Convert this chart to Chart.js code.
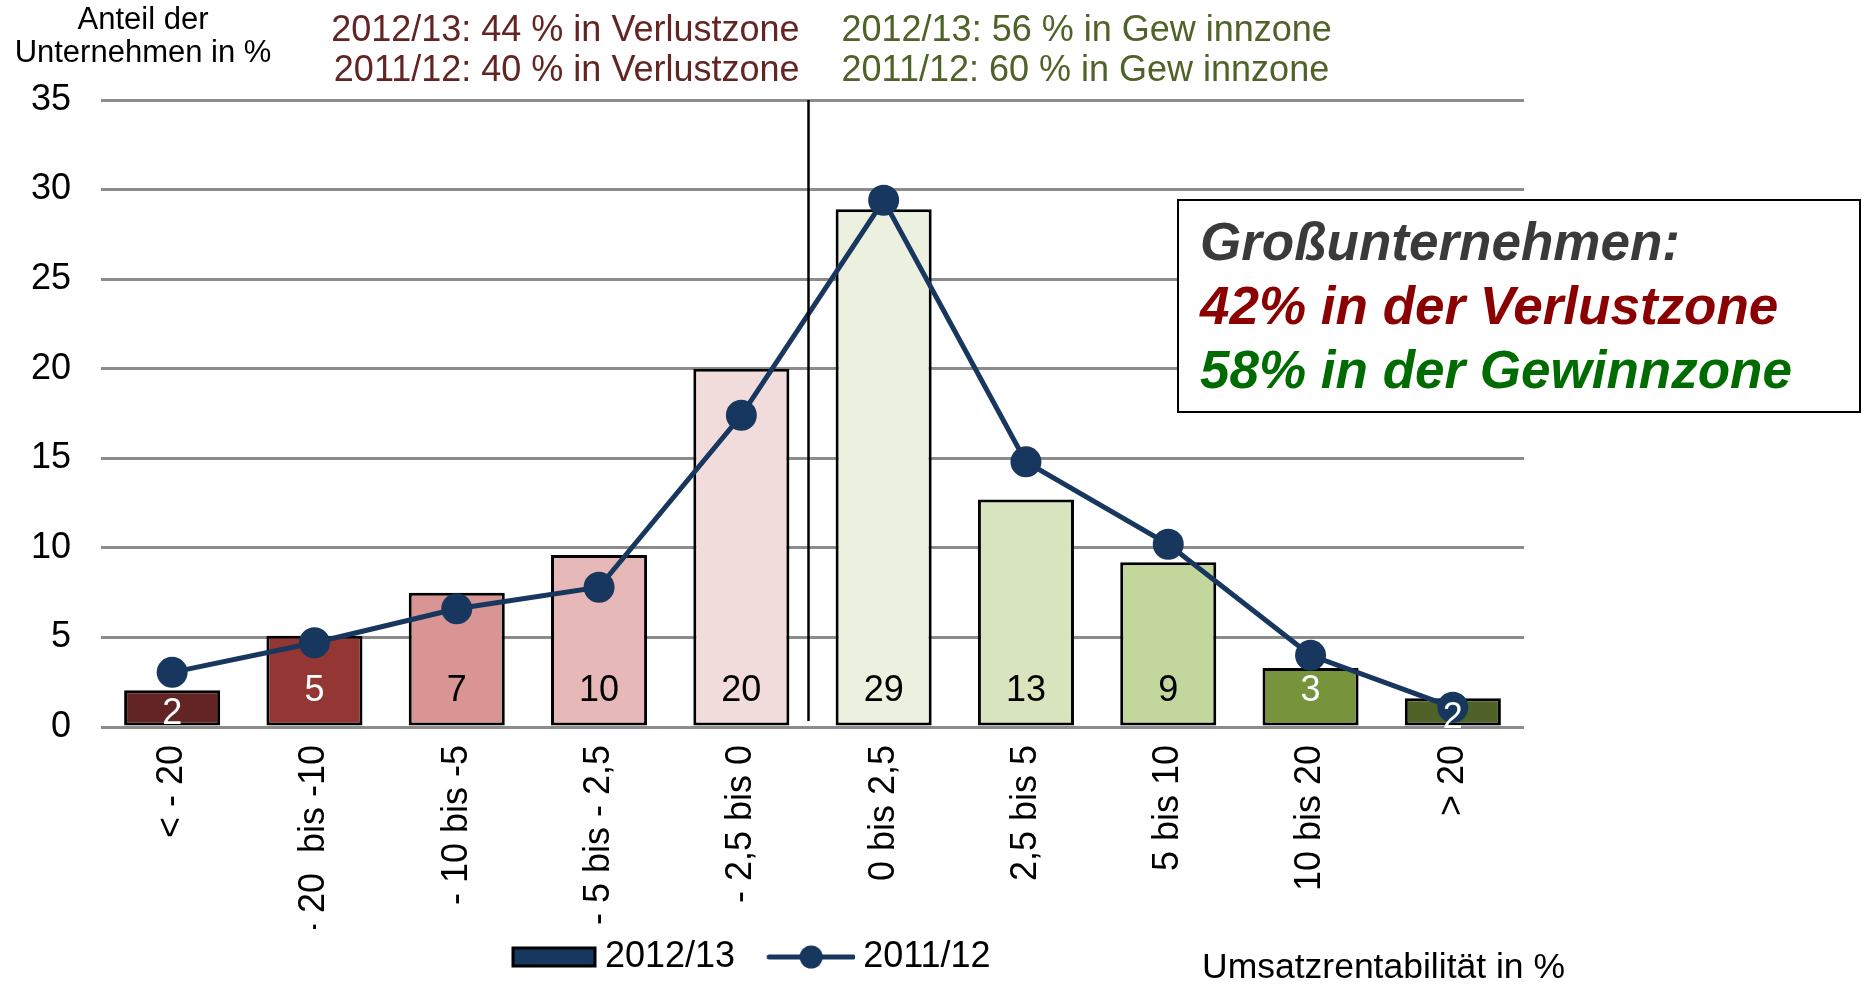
<!DOCTYPE html>
<html>
<head>
<meta charset="utf-8">
<script src="https://cdn.jsdelivr.net/npm/chart.js@4.4.0/dist/chart.umd.min.js"></script>
<style>
  html, body { margin: 0; padding: 0; background: #fff; }
  #wrap { width: 1862px; height: 985px; position: relative; }
</style>
</head>
<body>
<div id="wrap"><canvas id="chart"></canvas></div>
<script>
const categories = ['< - 20', '- 20  bis -10', '- 10 bis -5', '- 5 bis - 2,5', '- 2,5 bis 0', '0 bis 2,5', '2,5 bis 5', '5 bis 10', '10 bis 20', '> 20'];
const values2013 = [2.05, 5.1, 7.5, 9.6, 20.0, 28.9, 12.7, 9.2, 3.3, 1.6];
const labels2013 = [2, 5, 7, 10, 20, 29, 13, 9, 3, 2];
const values2012 = [3.05, 4.7, 6.6, 7.8, 17.4, 29.4, 14.8, 10.2, 4.0, 1.1];
const seriesNames = ['2012/13', '2011/12'];
const barColors = ['#632523', '#943634', '#D99594', '#E6B9B8', '#F2DCDB', '#EBF1DE', '#D7E4BD', '#C3D69B', '#77933C', '#4F6228'];
const labelColors = ['#fff', '#fff', '#000', '#000', '#000', '#000', '#000', '#000', '#fff', '#fff'];
const lossTexts = ['2012/13: 44 % in Verlustzone', '2011/12: 40 % in Verlustzone'];
const gainTexts = ['2012/13: 56 % in Gew innzone', '2011/12: 60 % in Gew innzone'];
const boxLines = ['Großunternehmen:', '42% in der Verlustzone', '58% in der Gewinnzone'];
const yTitle = ['Anteil der', 'Unternehmen in %'];
const xTitle = 'Umsatzrentabilität in %';

const NAVY = '#17375E';
const FONT = '"Liberation Sans", Arial, sans-serif';
Chart.defaults.font.family = FONT;

// legend swatches (bar box, line with marker)
function makeSwatch(kind) {
  const c = document.createElement('canvas');
  c.width = 120; c.height = 28;
  const g = c.getContext('2d');
  if (kind === 'bar') {
    g.fillStyle = NAVY;
    g.fillRect(36, 5, 82, 18);
    g.strokeStyle = '#000';
    g.lineWidth = 3;
    g.strokeRect(36, 5, 82, 18);
  } else {
    g.strokeStyle = NAVY;
    g.lineWidth = 5;
    g.lineCap = 'round';
    g.beginPath(); g.moveTo(34, 14); g.lineTo(118, 14); g.stroke();
    g.fillStyle = NAVY;
    g.beginPath(); g.arc(76, 14, 11.5, 0, Math.PI * 2); g.fill();
  }
  return c;
}
const swatches = [makeSwatch('bar'), makeSwatch('line')];

const extras = {
  id: 'extras',
  afterLayout(chart) {
    // put the legend row where the reference has it
    const lg = chart.legend;
    if (!lg || !lg.lineWidths) return;
    const start = (lg.left + 10 + lg.right - lg.lineWidths[0]) / 2;
    const dx = 487 - start;
    lg.left += dx;
    lg.right += dx;
  },
  afterDatasetsDraw(chart) {
    const ctx = chart.ctx;
    const meta = chart.getDatasetMeta(0);
    ctx.save();
    ctx.font = '36px ' + FONT;
    ctx.textAlign = 'center';
    ctx.textBaseline = 'middle';
    meta.data.forEach((bar, i) => {
      const h = bar.base - bar.y;
      const y = h < 42 ? bar.y + h / 2 + 6 : bar.base - 34;
      ctx.fillStyle = labelColors[i];
      ctx.fillText(String(labels2013[i]), bar.x, y);
    });
    ctx.restore();
  },
  afterDraw(chart) {
    const ctx = chart.ctx;
    const area = chart.chartArea;
    const meta = chart.getDatasetMeta(0);
    const sepX = (meta.data[4].x + meta.data[5].x) / 2 - 4;
    ctx.save();

    // separator between loss and profit zone
    ctx.strokeStyle = '#000';
    ctx.lineWidth = 2.5;
    ctx.beginPath();
    ctx.moveTo(sepX, area.top);
    ctx.lineTo(sepX, area.bottom - 6);
    ctx.stroke();

    // zone texts above the plot
    ctx.font = '36px ' + FONT;
    ctx.textBaseline = 'middle';
    ctx.textAlign = 'right';
    ctx.fillStyle = '#632523';
    lossTexts.forEach((t, i) => ctx.fillText(t, sepX - 9, 31 + i * 40));
    ctx.textAlign = 'left';
    ctx.fillStyle = '#4F6228';
    gainTexts.forEach((t, i) => ctx.fillText(t, sepX + 33, 31 + i * 40));

    // y axis title
    ctx.font = '31px ' + FONT;
    ctx.textAlign = 'center';
    ctx.fillStyle = '#000';
    yTitle.forEach((t, i) => ctx.fillText(t, 143, 20 + i * 33));

    // x axis title
    ctx.font = '35.5px ' + FONT;
    ctx.textAlign = 'left';
    ctx.fillText(xTitle, 1202, 968);

    // summary box
    ctx.fillStyle = '#fff';
    ctx.fillRect(1178, 200, 682, 212);
    ctx.strokeStyle = '#000';
    ctx.lineWidth = 2;
    ctx.strokeRect(1178, 200, 682, 212);
    ctx.font = 'italic bold 53px ' + FONT;
    ctx.textAlign = 'left';
    const boxColors = ['#3A3A3A', '#8B0000', '#006B00'];
    boxLines.forEach((t, i) => {
      ctx.fillStyle = boxColors[i];
      ctx.fillText(t, 1200, 245 + i * 64);
    });
    ctx.restore();
  }
};

new Chart(document.getElementById('chart'), {
  type: 'bar',
  data: {
    labels: categories,
    datasets: [
      {
        label: seriesNames[0],
        data: values2013,
        backgroundColor: barColors,
        borderColor: '#000',
        borderWidth: 3,
        borderSkipped: false,
        categoryPercentage: 1,
        barPercentage: 0.675,
        order: 1
      },
      {
        type: 'line',
        label: seriesNames[1],
        data: values2012,
        borderColor: NAVY,
        backgroundColor: NAVY,
        borderWidth: 5,
        pointRadius: 13,
        pointBackgroundColor: NAVY,
        pointBorderColor: NAVY,
        tension: 0,
        order: 0
      }
    ]
  },
  options: {
    responsive: true,
    maintainAspectRatio: false,
    animation: false,
    layout: { padding: { top: 100, right: 338, left: 0, bottom: 0 } },
    scales: {
      x: {
        grid: { display: false, drawTicks: false },
        border: { display: false },
        ticks: { color: '#000', font: { size: 36 }, minRotation: 90, maxRotation: 90, padding: 18, autoSkip: false },
        afterFit(s) { s.height = 202; }
      },
      y: {
        min: 0,
        max: 35,
        ticks: { stepSize: 5, color: '#000', font: { size: 36 }, padding: 30 },
        grid: { color: '#8c8c8c', lineWidth: 3, drawTicks: false },
        border: { display: false },
        afterFit(s) { s.width = 101; }
      }
    },
    plugins: {
      tooltip: { enabled: false },
      legend: {
        position: 'bottom',
        labels: {
          usePointStyle: true,
          pointStyleWidth: 100,
          boxHeight: 36,
          color: '#000',
          font: { size: 36 },
          padding: 10,
          sort: (a, b) => a.datasetIndex - b.datasetIndex,
          generateLabels(chart) {
            const items = Chart.defaults.plugins.legend.labels.generateLabels(chart);
            items.forEach(it => { it.pointStyle = swatches[it.datasetIndex]; });
            return items;
          }
        }
      }
    }
  },
  plugins: [extras]
});
</script>
</body>
</html>
